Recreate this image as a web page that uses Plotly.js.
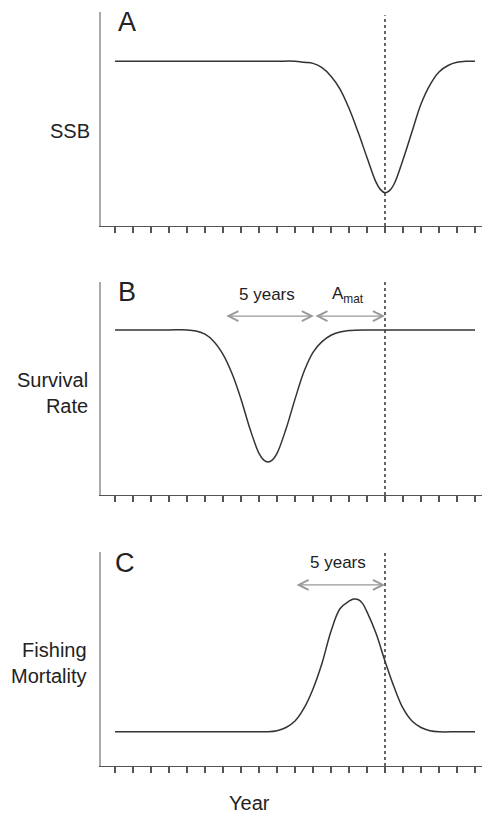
<!DOCTYPE html>
<html>
<head>
<meta charset="utf-8">
<script src="https://cdn.plot.ly/plotly-3.0.1.min.js"></script>
<style>html,body{margin:0;padding:0;background:#fff;}#chart{width:486px;height:813px;}</style>
</head>
<body>
<div id="chart"></div>
<script>
// ---- data ----
var ssbYears = [0,1,2,3,4,5,6,7,8,9,10,10.5,11,11.5,12,12.5,13,13.5,14,14.5,14.75,15,15.25,15.5,16,16.5,17,17.5,18,18.5,19,19.5,20];
var ssb      = [0.77,0.77,0.77,0.77,0.77,0.77,0.77,0.77,0.77,0.77,0.77,0.765,0.76,0.74,0.70,0.64,0.55,0.44,0.32,0.205,0.17,0.155,0.165,0.195,0.31,0.44,0.57,0.66,0.72,0.75,0.765,0.77,0.77];

var survYears = [0,1,2,3,4,4.5,5,5.5,6,6.5,7,7.5,8,8.25,8.5,8.75,9,9.5,10,10.5,11,11.5,12,12.5,13,14,15,16,17,18,19,20];
var survival  = [0.775,0.775,0.775,0.775,0.775,0.77,0.755,0.72,0.66,0.57,0.45,0.31,0.195,0.165,0.155,0.165,0.195,0.31,0.45,0.58,0.67,0.72,0.75,0.765,0.772,0.775,0.775,0.775,0.775,0.775,0.775,0.775];

var fishYears = [0,1,2,3,4,5,6,7,8,8.5,9,9.5,10,10.5,11,11.5,12,12.5,13,13.25,13.5,13.75,14,14.5,15,15.5,16,16.5,17,17.5,18,19,20];
var fishing   = [0.16,0.16,0.16,0.16,0.16,0.16,0.16,0.16,0.16,0.16,0.165,0.18,0.21,0.27,0.36,0.48,0.63,0.735,0.77,0.78,0.778,0.76,0.72,0.62,0.49,0.37,0.27,0.21,0.18,0.165,0.16,0.16,0.16];

var tickYears = [0,1,2,3,4,5,6,7,8,9,10,11,12,13,14,15,16,17,18,19,20];
var eventYear = 15;
var eventLineTop = [0.985, 1.0, 1.0];
var spanB5 = [6.1, 11.05];
var spanAmat = [11.05, 15];
var spanC5 = [10, 15];
var panelLetters = ['A', 'B', 'C'];
var yLabels = ['SSB', 'Survival<br>Rate', 'Fishing<br>Mortality'];
var xLabel = 'Year';

// ---- style ----
var FONT = 'Liberation Sans, Arial, Helvetica, sans-serif';
var TXT = '#222';
var curve = {color: '#333', width: 1.5, shape: 'spline', smoothing: 1};
var dash = {color: '#333', width: 1.5, dash: 'dot'};

var traces = [];
[[ssbYears,ssb,'x','y'],[survYears,survival,'x2','y2'],[fishYears,fishing,'x3','y3']].forEach(function(s, i){
  traces.push({x: s[0], y: s[1], xaxis: s[2], yaxis: s[3], mode: 'lines', line: curve, hoverinfo: 'skip'});
  traces.push({x: [eventYear, eventYear], y: [0, eventLineTop[i]], xaxis: s[2], yaxis: s[3],
               mode: 'lines', line: dash, hoverinfo: 'skip'});
});

function xax(anchor){
  return {domain: [101/486, 482/486], range: [-0.78, 20.39], anchor: anchor,
          showline: true, linecolor: '#555', linewidth: 1.2, ticks: 'outside', ticklen: 6,
          tickwidth: 1.2, tickcolor: '#555', tickvals: tickYears, showticklabels: false,
          showgrid: false, zeroline: false, fixedrange: true};
}
function yax(anchor, top, bottom){
  return {domain: [1 - bottom/813, 1 - top/813], range: [0, 1], anchor: anchor,
          showline: true, linecolor: '#aaa', linewidth: 2, ticks: '', showticklabels: false,
          showgrid: false, zeroline: false, fixedrange: true};
}

var ann = [];
var letterPos = [[127,22],[127,292],[125,563]];
panelLetters.forEach(function(t, i){
  ann.push({text: t, xref: 'paper', yref: 'paper', x: letterPos[i][0]/486, y: 1 - letterPos[i][1]/813,
            xanchor: 'center', yanchor: 'middle', showarrow: false, font: {family: FONT, size: 27, color: TXT}});
});
var labPos = [[92,131],[90,393],[89,663]];
yLabels.forEach(function(t, i){
  ann.push({text: t, xref: 'paper', yref: 'paper', x: labPos[i][0]/486, y: 1 - labPos[i][1]/813,
            xanchor: 'right', yanchor: 'middle', align: 'right', showarrow: false,
            font: {family: FONT, size: 20, color: TXT}});
});
ann.push({text: xLabel, xref: 'paper', yref: 'paper', x: 249/486, y: 1 - 803/813,
          xanchor: 'center', yanchor: 'middle', showarrow: false, font: {family: FONT, size: 20, color: TXT}});

function span(sp, xr, yr, yv){
  return {x: sp[1], y: yv, ax: sp[0], ay: yv, xref: xr, yref: yr, axref: xr, ayref: yr,
          text: '', showarrow: true, arrowside: 'end+start', arrowhead: 5, startarrowhead: 5,
          arrowsize: 1.5, startarrowsize: 1.5, arrowwidth: 1.3, arrowcolor: '#999', standoff: 0, startstandoff: 0};
}
ann.push(span(spanB5, 'x2', 'y2', 0.84));
ann.push(span(spanAmat, 'x2', 'y2', 0.84));
ann.push(span(spanC5, 'x3', 'y3', 0.846));
ann.push({text: '5 years', xref: 'x2', yref: 'y2', x: (spanB5[0]+spanB5[1])/2 - 0.15, y: 0.94, showarrow: false,
          font: {family: FONT, size: 17, color: TXT}});
ann.push({text: 'A<sub>mat</sub>', xref: 'x2', yref: 'y2', x: (spanAmat[0]+spanAmat[1])/2 - 0.1, y: 0.94, showarrow: false,
          font: {family: FONT, size: 17, color: TXT}});
ann.push({text: '5 years', xref: 'x3', yref: 'y3', x: (spanC5[0]+spanC5[1])/2 - 0.1, y: 0.95, showarrow: false,
          font: {family: FONT, size: 17, color: TXT}});

var layout = {
  width: 486, height: 813, margin: {l: 0, r: 0, t: 0, b: 0},
  paper_bgcolor: '#fff', plot_bgcolor: '#fff', showlegend: false, hovermode: false,
  xaxis: xax('y'), yaxis: yax('x', 12, 226),
  xaxis2: xax('y2'), yaxis2: yax('x2', 282, 495),
  xaxis3: xax('y3'), yaxis3: yax('x3', 552, 766),
  annotations: ann
};
Plotly.newPlot('chart', traces, layout, {staticPlot: true, displayModeBar: false});
</script>
</body>
</html>
